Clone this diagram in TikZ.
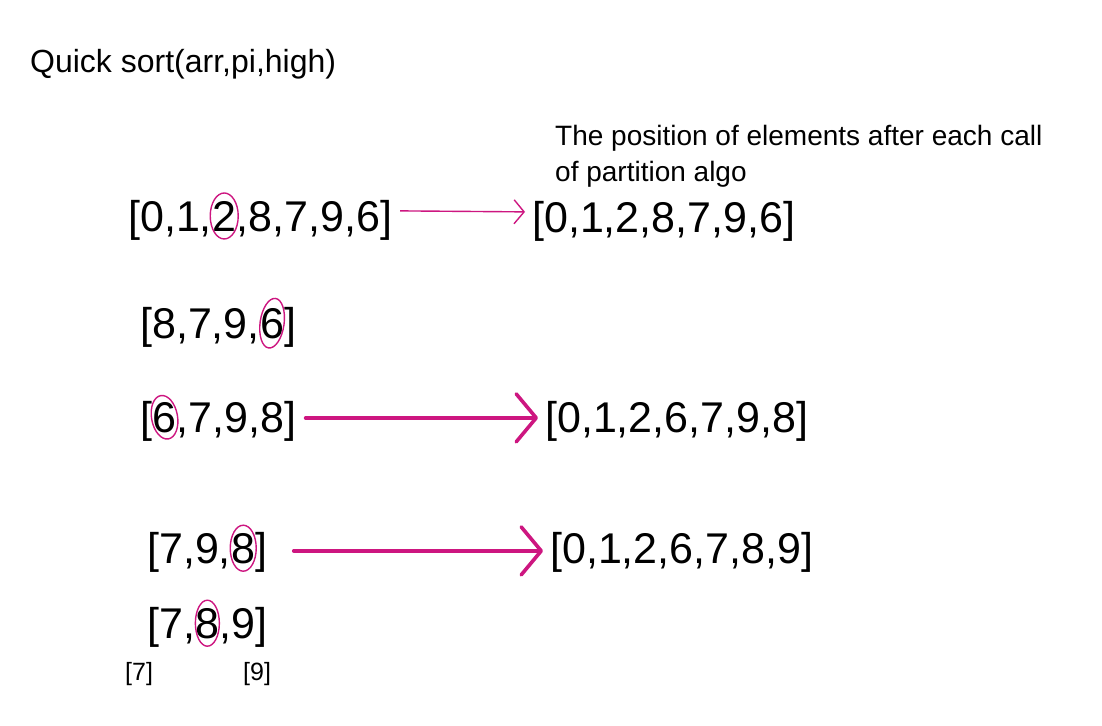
\documentclass[tikz,border=0pt]{standalone}
\usepackage{fontspec}
\setmainfont{Liberation Sans}
\usetikzlibrary{arrows.meta,calc}
\definecolor{ink}{RGB}{205,22,128}

\begin{document}
\begin{tikzpicture}[x=1pt,y=-1pt,
  arr/.style={inner sep=0pt,anchor=base west,font=\fontsize{43}{50}\selectfont},
  label/.style={inner sep=0pt,anchor=base west,font=\fontsize{28}{34}\selectfont},
  ring/.style={draw=ink,line width=1.4pt},
  thinlink/.style={draw=ink,line width=1.4pt,-{Straight Barb[length=10pt,width=24pt]}},
  thicklink/.style={draw=ink,line width=3.6pt,line cap=round,
    -{Straight Barb[length=20pt,width=48pt,round]}}]
  \useasboundingbox (0,0) rectangle (1102,725);
  % heading and note
  \node[label,font=\fontsize{32}{38}\selectfont] (title) at (30,72) {Quick sort(arr,pi,high)};
  \node[label] (note1) at (555,145) {The position of elements after each call};
  \node[label] (note2) at (555,181) {of partition algo};
  % first call: pivot 2
  \node[arr] (p1a) at (128,231) {[0,1,};
  \node[arr] (p1k) at (p1a.base east) {2};
  \node[arr] (p1b) at (p1k.base east) {,8,7,9,6]};
  \draw[ring] (p1k.center) ellipse[x radius=14pt,y radius=23pt];
  \node[arr] (q1) at (532,232) {[0,1,2,8,7,9,6]};
  \draw[thinlink] ($(p1b.east)+(8,-9)$) -- ($(q1.west)+(-7,-9)$);
  % right part, pivot 6
  \node[arr] (p2a) at (140,338) {[8,7,9,};
  \node[arr] (p2k) at (p2a.base east) {6};
  \node[arr] (p2b) at (p2k.base east) {]};
  \draw[ring,rotate around={-8:(p2k.center)}] (p2k.center) ellipse[x radius=12pt,y radius=25pt];
  % after swap
  \node[arr] (p3a) at (140,432) {[};
  \node[arr] (p3k) at (p3a.base east) {6};
  \node[arr] (p3b) at (p3k.base east) {,7,9,8]};
  \draw[ring,rotate around={10:(p3k.center)}] (p3k.center) ellipse[x radius=13pt,y radius=22pt];
  \node[arr] (q3) at (545,432) {[0,1,2,6,7,9,8]};
  \draw[thicklink] ($(p3b.east)+(9,-3)$) -- ($(q3.west)+(-7,-3)$);
  % pivot 8
  \node[arr] (p4a) at (147,563) {[7,9,};
  \node[arr] (p4k) at (p4a.base east) {8};
  \node[arr] (p4b) at (p4k.base east) {]};
  \draw[ring] (p4k.center) ellipse[x radius=13pt,y radius=23pt];
  \node[arr] (q4) at (550,563) {[0,1,2,6,7,8,9]};
  \draw[thicklink] ($(p4b.east)+(26,-1)$) -- ($(q4.west)+(-7,-1)$);
  \node[arr] (p5a) at (147,638) {[7,};
  \node[arr] (p5k) at (p5a.base east) {8};
  \node[arr] (p5b) at (p5k.base east) {,9]};
  \draw[ring] (p5k.center) ellipse[x radius=12pt,y radius=23pt];
  % single elements
  \node[label,font=\fontsize{25}{30}\selectfont] (s7) at (125,680) {[7]};
  \node[label,font=\fontsize{25}{30}\selectfont] (s9) at (243,680) {[9]};
\end{tikzpicture}
\end{document}
